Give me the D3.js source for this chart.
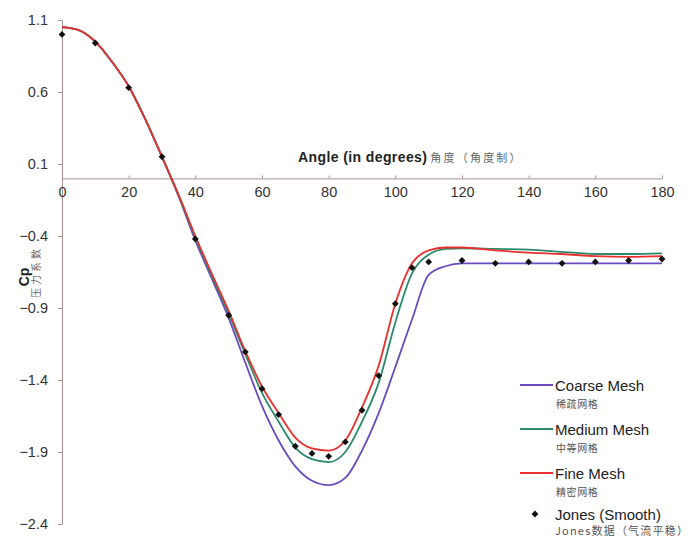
<!DOCTYPE html>
<html>
<head>
<meta charset="utf-8">
<script src="https://cdn.jsdelivr.net/npm/d3@7"></script>
<style>
  body { margin: 0; background: #fff; }
  svg { display: block; font-family: "Liberation Sans", Arial, sans-serif; }
</style>
</head>
<body>
<div id="chart"></div>
<script>
// angles (degrees) used by the CFD series
const angles = [0, 5, 10, 15, 20, 25, 30, 35, 40, 45, 50, 55, 60, 65, 70, 75, 80, 85, 90,
  95, 100, 105, 110, 115, 120, 130, 140, 150, 160, 170, 180];

const coarseCp = [1.05, 1.03, 0.95, 0.81, 0.64, 0.41, 0.15, -0.125, -0.43, -0.70, -0.97, -1.28,
  -1.58, -1.82, -2.00, -2.10, -2.13, -2.08, -1.89, -1.63, -1.31, -0.98, -0.67, -0.61, -0.59,
  -0.59, -0.59, -0.59, -0.59, -0.59, -0.59];
const mediumCp = [1.05, 1.03, 0.95, 0.81, 0.64, 0.41, 0.15, -0.12, -0.41, -0.68, -0.94, -1.22,
  -1.49, -1.69, -1.87, -1.95, -1.97, -1.90, -1.69, -1.42, -1.00, -0.66, -0.53, -0.49, -0.485,
  -0.49, -0.495, -0.51, -0.525, -0.525, -0.52];
const fineCp = [1.05, 1.03, 0.95, 0.81, 0.64, 0.41, 0.15, -0.115, -0.40, -0.665, -0.92, -1.20,
  -1.445, -1.63, -1.80, -1.875, -1.89, -1.82, -1.59, -1.30, -0.87, -0.59, -0.50, -0.48, -0.48,
  -0.50, -0.515, -0.525, -0.54, -0.545, -0.54];

// Jones experimental data
const jonesAngles = [0, 10, 20, 30, 40, 50, 55, 60, 65, 70, 75, 80, 85, 90, 95, 100, 105, 110,
  120, 130, 140, 150, 160, 170, 180];
const jonesCp = [1.0, 0.94, 0.63, 0.15, -0.42, -0.95, -1.205, -1.46, -1.64, -1.86, -1.91, -1.93,
  -1.83, -1.61, -1.37, -0.87, -0.62, -0.58, -0.57, -0.59, -0.58, -0.59, -0.58, -0.57, -0.56];

const xTicks = [0, 20, 40, 60, 80, 100, 120, 140, 160, 180];
const yTicks = [1.1, 0.6, 0.1, -0.4, -0.9, -1.4, -1.9, -2.4];

const series = [
  { name: "Coarse Mesh", zh: "稀疏网格", values: coarseCp, color: "#6a4cc0" },
  { name: "Medium Mesh", zh: "中等网格", values: mediumCp, color: "#2b8a6c" },
  { name: "Fine Mesh", zh: "精密网格", values: fineCp, color: "#e8312e" }
];

const width = 699, height = 542;
const axisColor = "#a8938f";
const zhFont = "'Noto Sans CJK SC', sans-serif";

const svg = d3.select("#chart")
  .append("svg")
    .attr("width", width)
    .attr("height", height);

const x = d3.scaleLinear().domain([0, 180]).range([62, 662]);
const y = d3.scaleLinear().domain([-2.4, 1.1]).range([524, 20]);

// y axis
const yAxis = svg.append("g")
  .attr("transform", `translate(${x(0)},0)`)
  .call(d3.axisLeft(y).tickValues(yTicks).tickSize(4).tickSizeOuter(0)
    .tickPadding(10).tickFormat(d3.format(".1f")));
yAxis.select(".domain").attr("stroke", axisColor);
yAxis.selectAll(".tick line").attr("stroke", axisColor);
yAxis.selectAll("text").attr("font-size", 14.5).attr("fill", "#333")
  .attr("font-family", "'Liberation Sans', Arial, sans-serif");

// x axis sits at Cp = 0
const xAxis = svg.append("g")
  .attr("transform", `translate(0,${y(0)})`)
  .call(d3.axisBottom(x).tickValues(xTicks).tickSizeInner(-3).tickSizeOuter(0).tickPadding(8));
xAxis.select(".domain").attr("stroke", axisColor);
xAxis.selectAll(".tick line").attr("stroke", axisColor);
xAxis.selectAll("text").attr("font-size", 14.5).attr("fill", "#333")
  .attr("font-family", "'Liberation Sans', Arial, sans-serif");

// axis titles
const xTitle = svg.append("text")
  .attr("x", 298).attr("y", 162);
xTitle.append("tspan")
  .attr("font-weight", "bold").attr("font-size", 14).attr("fill", "#222")
  .attr("letter-spacing", 0.4)
  .text("Angle (in degrees)");
xTitle.append("tspan")
  .attr("dx", 3).attr("font-size", 11).attr("fill", "#666")
  .attr("letter-spacing", 2.2)
  .attr("font-family", zhFont)
  .text("角度（角度制）");

// y title: rotated group
const yTitle = svg.append("g")
  .attr("transform", "translate(29,277) rotate(-90)");
yTitle.append("text")
  .attr("x", 0).attr("y", 0)
  .attr("text-anchor", "middle")
  .attr("font-weight", "bold").attr("font-size", 14).attr("fill", "#222")
  .text("Cp");
yTitle.append("text")
  .attr("x", 5).attr("y", 11)
  .attr("text-anchor", "middle")
  .attr("font-size", 10).attr("fill", "#666")
  .attr("letter-spacing", 3)
  .attr("font-family", zhFont)
  .text("压力系数");

// lines
const line = d3.line()
  .x((d, i) => x(angles[i]))
  .y(d => y(d))
  .curve(d3.curveMonotoneX);

series.forEach(s => {
  svg.append("path")
    .attr("d", line(s.values))
    .attr("fill", "none")
    .attr("stroke", s.color)
    .attr("stroke-width", 1.8);
});

// Jones points
const diamond = d3.symbol().type(d3.symbolDiamond2).size(30);
svg.selectAll(".jones")
  .data(jonesCp)
  .join("path")
    .attr("class", "jones")
    .attr("transform", (d, i) => `translate(${x(jonesAngles[i])},${y(d)})`)
    .attr("d", diamond)
    .attr("fill", "#111");

// legend
const legend = svg.append("g");
series.forEach((s, i) => {
  const ly = 385 + i * 44;
  legend.append("line")
    .attr("x1", 520).attr("x2", 553).attr("y1", ly).attr("y2", ly)
    .attr("stroke", s.color).attr("stroke-width", 1.8);
  legend.append("text")
    .attr("x", 555).attr("y", ly + 6)
    .attr("font-size", 15).attr("fill", "#222")
    .text(s.name);
  legend.append("text")
    .attr("x", 556).attr("y", ly + 23)
    .attr("font-size", 10).attr("fill", "#555")
    .attr("letter-spacing", 0.6)
    .attr("font-family", zhFont)
    .text(s.zh);
});
legend.append("path")
  .attr("transform", "translate(535,514)")
  .attr("d", diamond)
  .attr("fill", "#111");
legend.append("text")
  .attr("x", 555).attr("y", 520)
  .attr("font-size", 15).attr("fill", "#222")
  .text("Jones (Smooth)");
legend.append("text")
  .attr("x", 555).attr("y", 535)
  .attr("font-size", 11).attr("fill", "#555")
  .attr("letter-spacing", 1.2)
  .attr("font-family", zhFont)
  .text("Jones数据（气流平稳）");
</script>
</body>
</html>
